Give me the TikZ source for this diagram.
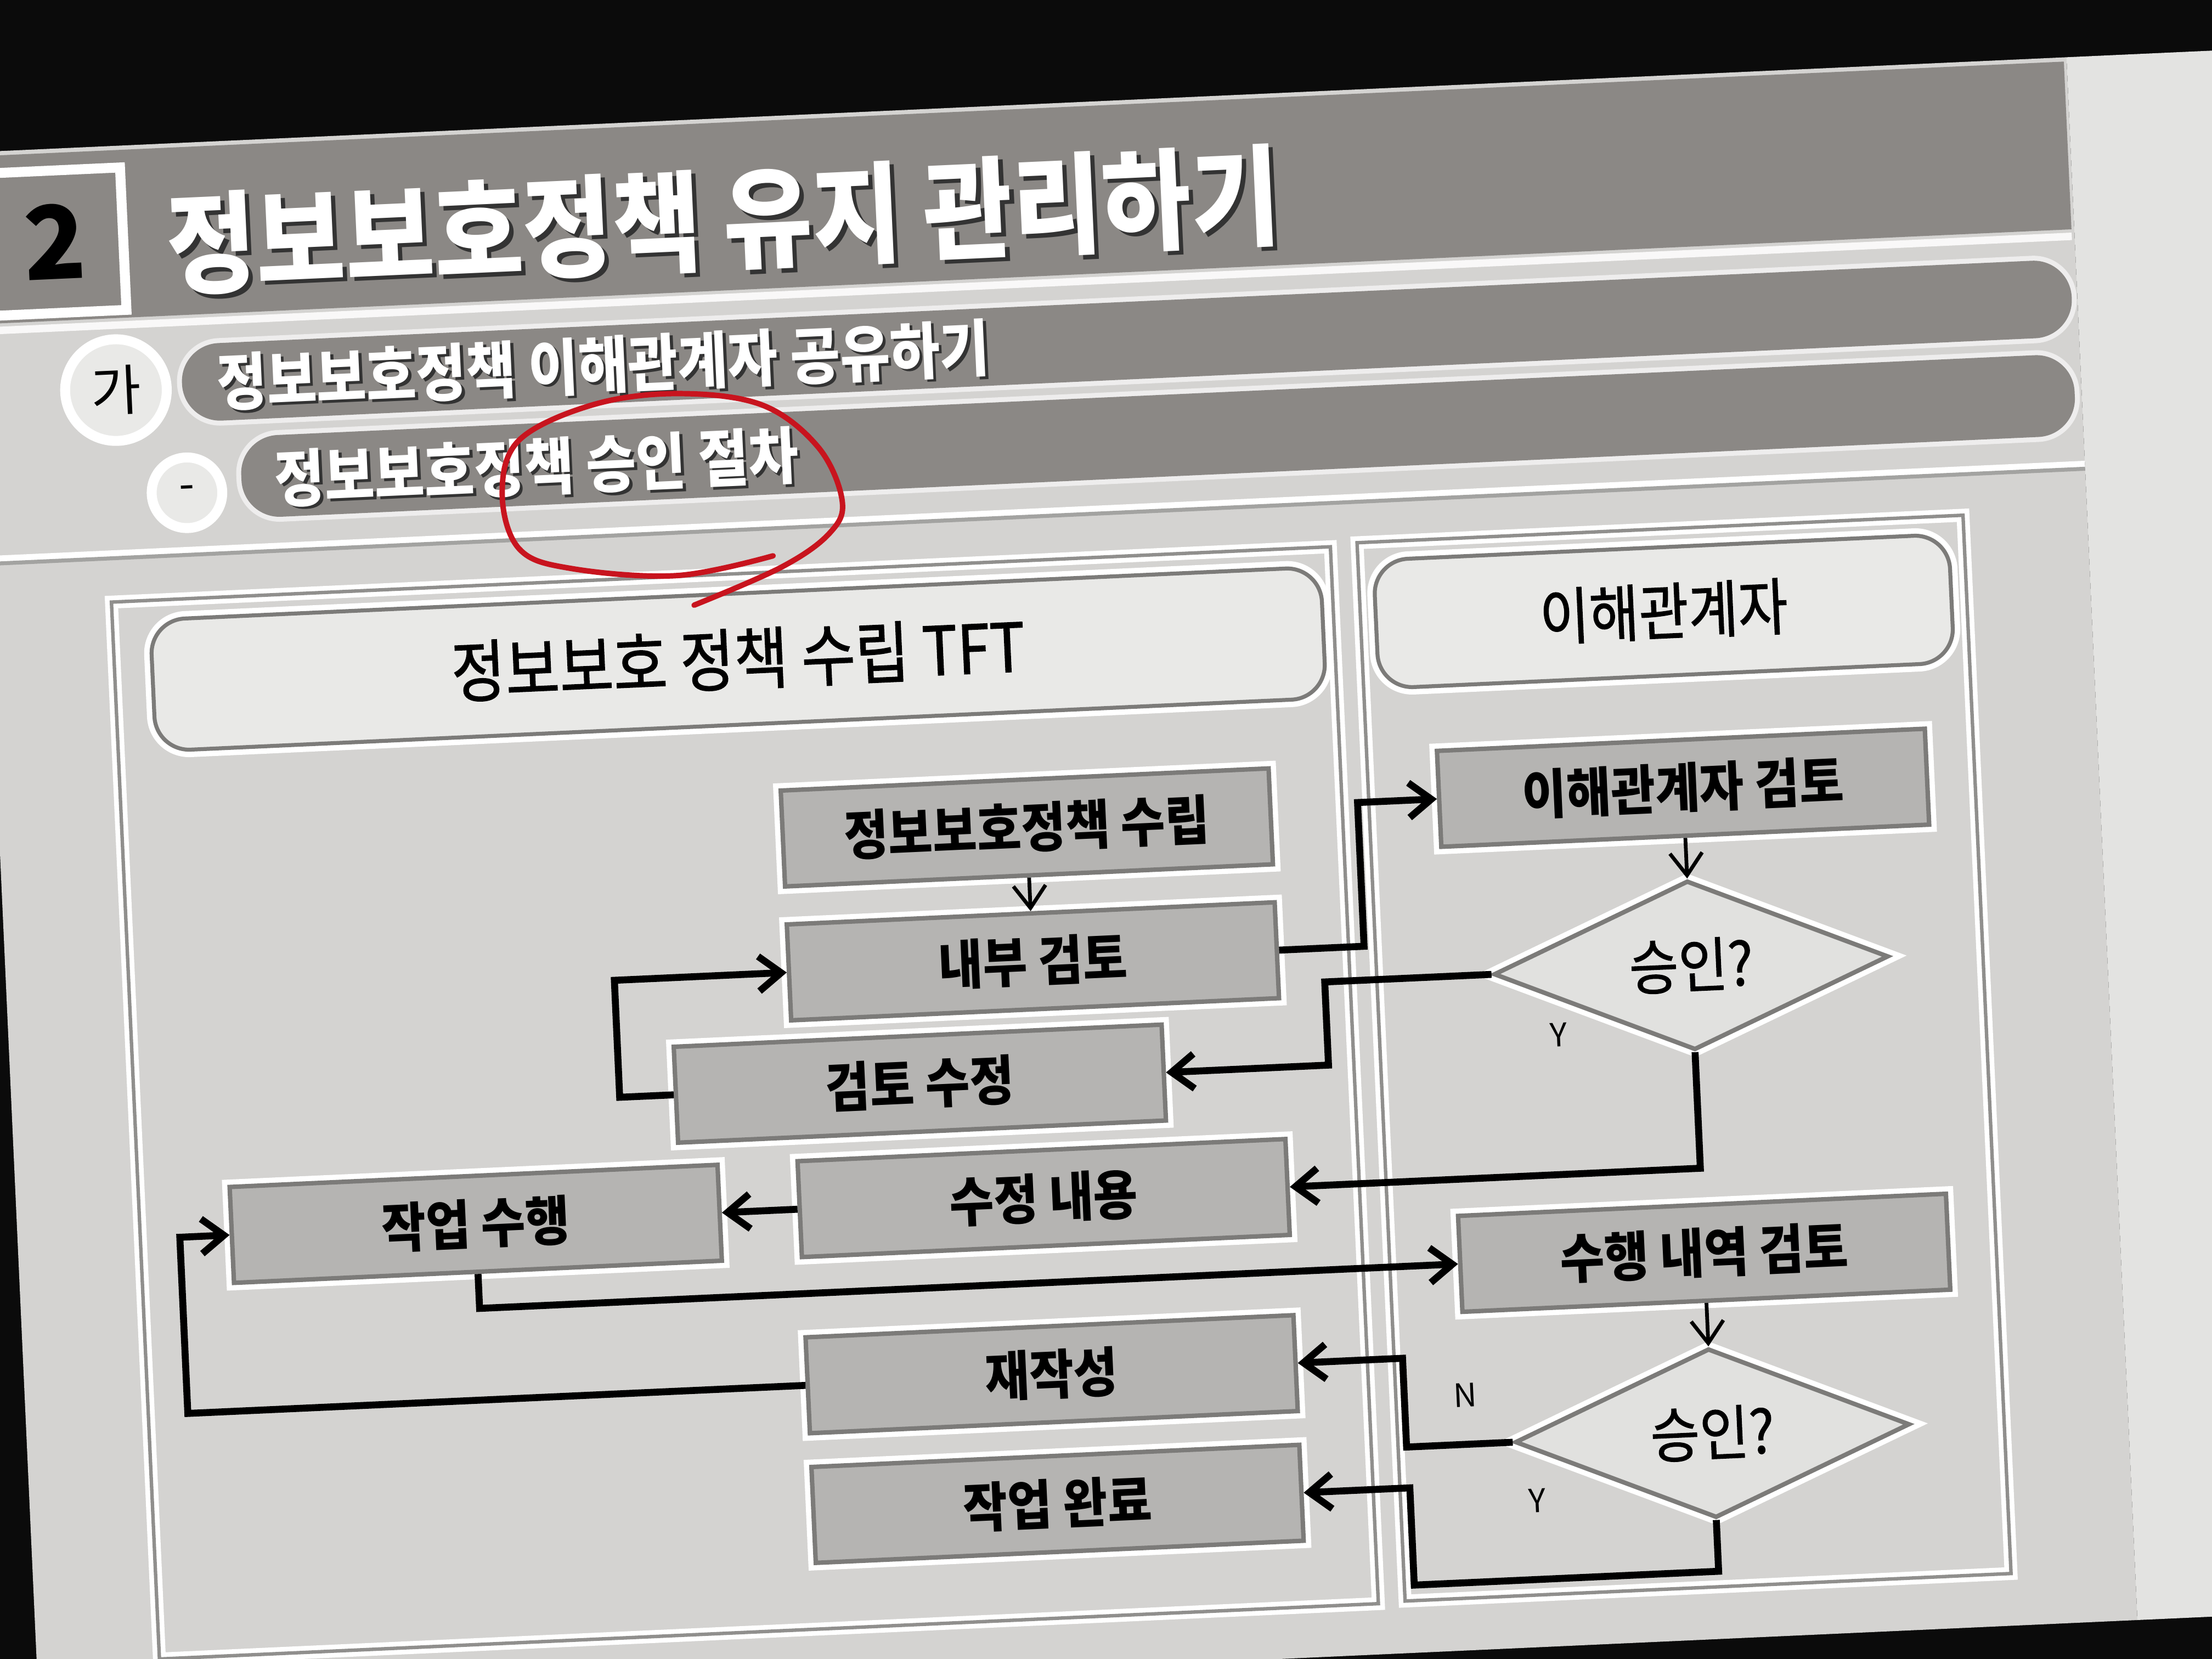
\documentclass[tikz,border=0pt]{standalone}
\usepackage{fontspec}
\setmainfont{Noto Sans CJK KR}
\newfontfamily\krtitle[FakeStretch=0.88]{Noto Sans CJK KR}
\newfontfamily\krband[FakeStretch=0.875]{Noto Sans CJK KR}
\newfontfamily\krhead[FakeStretch=0.87,FakeBold=1.2]{Noto Sans CJK KR}
\newfontfamily\krbox[FakeStretch=0.9]{Noto Sans CJK KR}
\newfontfamily\krask[FakeStretch=0.9,FakeBold=1]{Noto Sans CJK KR}
\usetikzlibrary{arrows.meta,positioning,shapes.geometric,calc}
\definecolor{cNight}{HTML}{0B0B0B}
\definecolor{cSlide}{HTML}{D4D3D1}
\definecolor{cStrip}{HTML}{E3E3E1}
\definecolor{cBand}{HTML}{8B8885}
\definecolor{cHead}{HTML}{E9E9E7}
\definecolor{cBox}{HTML}{B5B4B2}
\definecolor{cRim}{HTML}{7C7B79}
\definecolor{cDia}{HTML}{E1E1DF}
\definecolor{cPen}{HTML}{C8141E}
\tikzset{
  flowbox/.style={draw=cRim,line width=0.9pt,fill=cBox,minimum width=3.46cm,minimum height=0.68cm,inner sep=0pt,
    font=\krbox\bfseries\fontsize{10.8pt}{12pt}\selectfont,preaction={draw=white,line width=3pt}},
  query/.style={diamond,aspect=2.33,draw=cRim,line width=0.9pt,fill=cDia,minimum width=2.8cm,minimum height=1.2cm,inner sep=0pt,
    font=\krask\fontsize{12pt}{14pt}\selectfont,preaction={draw=white,line width=3pt}},
  headbox/.style={draw=cRim,line width=0.8pt,fill=cHead,rounded corners=7pt,inner sep=0pt,
    font=\krhead\fontsize{12.5pt}{15pt}\selectfont,preaction={draw=white,line width=3pt}},
  frame/.style={draw=cRim!85,line width=0.7pt,preaction={draw=white,line width=2.6pt}},
  band/.style={fill=cBand,rounded corners=0.27cm,preaction={draw=white!60!cSlide,line width=2pt}},
  bandtext/.style={anchor=west,inner sep=0pt,text=white,font=\krband\bfseries\fontsize{12.5pt}{15pt}\selectfont},
  flow/.style={line width=1.4pt,-{Straight Barb[length=4.5pt,width=7pt]}},
  feed/.style={line width=0.75pt,-{Straight Barb[length=4.5pt,width=6.5pt]}},
  yn/.style={inner sep=0pt,font=\fontsize{6.5pt}{8pt}\selectfont},
}
\begin{document}
\begin{tikzpicture}[x=0.01cm,y=-0.01cm]
  \useasboundingbox (0,0) rectangle (1568,1176);
  \fill[cNight] (0,0) rectangle (1568,1176);
  \begin{scope}[transform canvas={rotate around={2.6:(784,588)}}]
    % slide and heading
    \fill[cSlide] (0,72) rectangle (1489,1181);
    \fill[cStrip] (1489,72) rectangle (1700,1181);
    \fill[cBand] (0,75) rectangle (1487,194);
    \draw[white!85!cSlide,line width=1.5pt] (0,199) -- (1487,199);
    \node[draw=white,line width=2pt,fill=cBand,minimum width=1.17cm,minimum height=1.01cm,inner sep=0pt,
      font=\bfseries\fontsize{20.5pt}{24pt}\selectfont] (secnum) at (48.5,138) {\hspace{0.2cm}2};
    \node[anchor=west,inner sep=0pt,text=black!80,font=\krtitle\bfseries\fontsize{22.2pt}{26pt}\selectfont] (title-sh) at (140,147) {정보보호정책 유지 관리하기};
    \node[anchor=west,inner sep=0pt,text=white,font=\krtitle\bfseries\fontsize{22.2pt}{26pt}\selectfont] (title) at (137,144) {정보보호정책 유지 관리하기};
    % sub headings
    \node[circle,fill=cHead,draw=white,line width=2pt,minimum size=0.72cm,inner sep=0pt,font=\fontsize{11pt}{13pt}\selectfont] (ga) at (97,245) {가};
    \fill[band] (144,215) rectangle (1485,270);
    \node[bandtext,text=black!80] (sub1-sh) at (170,245) {정보보호정책 이해관계자 공유하기};
    \node[bandtext] (sub1) at (168,243) {정보보호정책 이해관계자 공유하기};
    \node[circle,fill=cHead,draw=white,line width=2pt,minimum size=0.5cm,inner sep=0pt,font=\fontsize{9pt}{11pt}\selectfont] (dash) at (144,320) {-};
    \fill[band] (183,282) rectangle (1484,340);
    \node[bandtext,text=black!80] (sub2-sh) at (208,315) {정보보호정책 승인 절차};
    \node[bandtext] (sub2) at (206,313) {정보보호정책 승인 절차};
    \draw[white,line width=1.5pt] (0,361) -- (1489,361);
    \draw[cRim!70,line width=0.8pt] (0,364) -- (1489,364);
    % two lanes
    \draw[frame] (87,395) rectangle (952,1145);
    \draw[frame] (971,393) rectangle (1401,1144);
    \node[headbox,minimum width=8.3cm,minimum height=0.93cm,font=\krhead\fontsize{13.6pt}{16pt}\selectfont] (tft) at (529,455.5) {정보보호 정책 수립 TFT};
    \node[headbox,minimum width=4.08cm,minimum height=0.91cm] (party) at (1186,451.5) {이해관계자};
    % steps
    \node[flowbox] (setup) at (728,584) {정보보호정책 수립};
    \node[flowbox] (inner) at (728,679) {내부 검토};
    \node[flowbox] (revise) at (644,762) {검토 수정};
    \node[flowbox] (change) at (728,847) {수정 내용};
    \node[flowbox] (work) at (325,847) {작업 수행};
    \node[flowbox] (redo) at (728,972) {재작성};
    \node[flowbox] (done) at (728,1064) {작업 완료};
    \node[flowbox] (sreview) at (1194,577) {이해관계자 검토};
    \node[query] (ok1) at (1194,703) {승인?};
    \node[flowbox] (wreview) at (1194,907) {수행 내역 검토};
    \node[query] (ok2) at (1194,1035) {승인?};
    % bends
    \coordinate (upjog) at (963,620);
    \coordinate (backjog) at (934,720);
    \coordinate (loopjog) at (431,720);
    \coordinate (njog) at (977,1000);
    \coordinate (ybase) at (978,1133);
    \coordinate (redojog) at (115,900);
    % arrows
    \draw[feed] (setup) -- (inner);
    \draw[flow] (inner.east) -- (inner.east -| upjog) |- (sreview.west);
    \draw[feed] (sreview) -- (ok1);
    \draw[flow] (ok1.west) -- (ok1.west -| backjog) |- (revise.east);
    \draw[flow] (ok1.south) |- (change.east);
    \draw[flow] (revise.west) -- (revise.west -| loopjog) |- (inner.west);
    \draw[flow] (change) -- (work);
    \draw[flow] (work.south) |- (wreview.west);
    \draw[feed] (wreview) -- (ok2);
    \draw[flow] (ok2.west) -- (ok2.west -| njog) |- (redo.east);
    \draw[flow] (ok2.south) |- (ybase) |- (done.east);
    \draw[flow] (redo.west) -- (redo.west -| redojog) |- (work.west);
    \node[yn] (yes1) at (1098,748) {Y};
    \node[yn] (no2) at (1020,1000) {N};
    \node[yn] (yes2) at (1068,1077) {Y};
  \end{scope}
  % pen mark
  \draw[cPen,line width=1.1pt,line cap=round] plot[smooth,tension=0.6] coordinates {(548,394) (480,408) (405,403) (368,389) (356,350) (368,312) (420,287) (480,279) (540,287) (580,317) (597,355) (588,378) (554,402) (492,429)};
\end{tikzpicture}
\end{document}
